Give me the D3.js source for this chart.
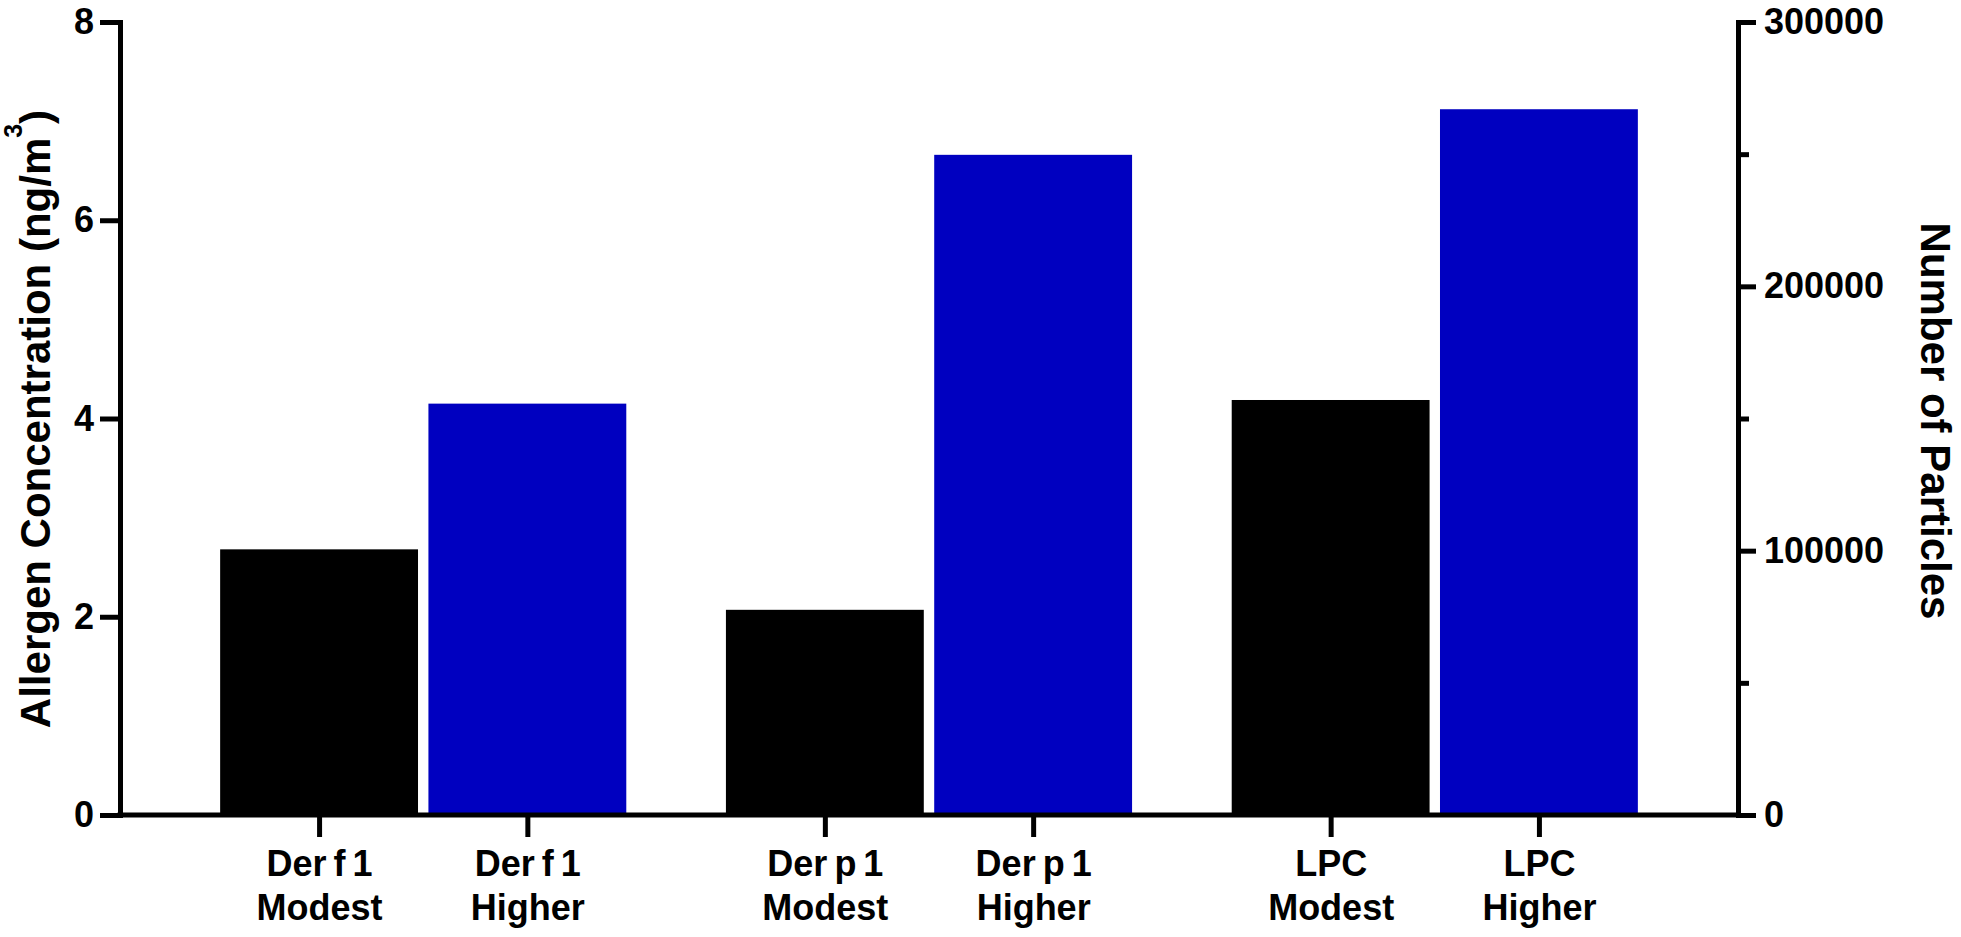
<!DOCTYPE html>
<html>
<head>
<meta charset="utf-8">
<script src="https://cdn.jsdelivr.net/npm/d3@7"></script>
<style>
  body { margin: 0; background: #fff; }
  svg text { font-family: "Liberation Sans", Arial, sans-serif; font-weight: bold; fill: #000; }
</style>
</head>
<body>
<svg id="chart" width="1961" height="937"></svg>
<script>
// groups on the x axis, two bars each
var categories = ["Der f 1", "Der p 1", "LPC"];
var levels = ["Modest", "Higher"];
// Der f 1 / Der p 1 in ng/m3 (left axis), LPC in particles (right axis)
var modestValues = [2.68, 2.07, 157000];
var higherValues = [4.15, 6.66, 267000];
var valueAxis = ["left", "left", "right"];
var leftTicks = [0, 2, 4, 6, 8];
var rightTicks = [0, 100000, 200000, 300000];
var rightMinorTicks = [50000, 150000, 250000];
var colors = { Modest: "#000000", Higher: "#0000c0" };

var svg = d3.select("#chart");

var plotLeft = 120, plotRight = 1738,
    plotTop = 22, plotBottom = 815;

var x0 = d3.scaleBand()
    .domain(categories)
    .range([plotLeft, plotRight])
    .paddingInner(0.197)
    .paddingOuter(0.198);

var x1 = d3.scaleBand()
    .domain(levels)
    .range([0, x0.bandwidth()])
    .paddingInner(0.05);

var yLeft = d3.scaleLinear().domain([0, 8]).range([plotBottom, plotTop]);
var yRight = d3.scaleLinear().domain([0, 300000]).range([plotBottom, plotTop]);

var rows = [];
categories.forEach(function (c, i) {
  rows.push({ cat: c, level: "Modest", value: modestValues[i], axis: valueAxis[i] });
  rows.push({ cat: c, level: "Higher", value: higherValues[i], axis: valueAxis[i] });
});

function yFor(d) {
  return d.axis === "right" ? yRight(d.value) : yLeft(d.value);
}

svg.append("g").selectAll("rect")
    .data(rows)
    .join("rect")
    .attr("x", function (d) { return x0(d.cat) + x1(d.level); })
    .attr("y", yFor)
    .attr("width", x1.bandwidth())
    .attr("height", function (d) { return plotBottom - yFor(d); })
    .attr("fill", function (d) { return colors[d.level]; });

function styleAxis(g) {
  g.selectAll("line, path").attr("stroke", "#000").attr("stroke-width", 5);
  g.selectAll("text").style("font-size", "36px");
}

// left axis
svg.append("g")
    .attr("transform", "translate(" + plotLeft + ",0)")
    .call(d3.axisLeft(yLeft).tickValues(leftTicks).tickSize(20).tickSizeOuter(0).tickPadding(6))
    .call(styleAxis)
    .call(function (g) { g.select(".domain").attr("stroke-linecap", "square"); });

// right axis
svg.append("g")
    .attr("transform", "translate(" + plotRight + ",0)")
    .call(d3.axisRight(yRight).tickValues(rightMinorTicks).tickSize(11).tickSizeOuter(0).tickFormat(""))
    .call(styleAxis)
    .call(function (g) { g.select(".domain").remove(); });

svg.append("g")
    .attr("transform", "translate(" + plotRight + ",0)")
    .call(d3.axisRight(yRight).tickValues(rightTicks).tickSize(18).tickSizeOuter(0).tickPadding(8).tickFormat(d3.format("d")))
    .call(styleAxis)
    .call(function (g) { g.select(".domain").attr("stroke-linecap", "square"); });

// x axis: ticks at bar centres
var keys = rows.map(function (d) { return d.cat + "|" + d.level; });
var xTick = d3.scaleOrdinal()
    .domain(keys)
    .range(rows.map(function (d) { return x0(d.cat) + x1(d.level) + x1.bandwidth() / 2; }));

var xAxis = svg.append("g")
    .attr("transform", "translate(0," + plotBottom + ")")
    .call(d3.axisBottom(xTick).tickSize(22).tickSizeOuter(0).tickFormat(""))
    .call(styleAxis);
xAxis.select(".domain").remove();

xAxis.selectAll(".tick text").remove();
xAxis.selectAll(".tick").append("text")
    .attr("text-anchor", "middle")
    .style("font-size", "36px")
    .style("word-spacing", "-3px")
    .each(function (k) {
      var parts = k.split("|");
      var t = d3.select(this);
      t.append("tspan").attr("x", 0).attr("y", 61).text(parts[0]);
      t.append("tspan").attr("x", 0).attr("y", 105).text(parts[1]);
    });

svg.append("line")
    .attr("x1", plotLeft).attr("x2", plotRight)
    .attr("y1", plotBottom).attr("y2", plotBottom)
    .attr("stroke", "#000")
    .attr("stroke-width", 5)
    .attr("stroke-linecap", "square");

// axis titles
var lt = svg.append("text")
    .attr("transform", "translate(50,419) rotate(-90)")
    .attr("text-anchor", "middle")
    .style("font-size", "42px");
lt.append("tspan").text("Allergen Concentration (ng/m");
lt.append("tspan").attr("dy", -28).style("font-size", "25px").text("3");
lt.append("tspan").attr("dy", 28).text(")");

svg.append("text")
    .attr("transform", "translate(1921,421) rotate(90)")
    .attr("text-anchor", "middle")
    .style("font-size", "42px")
    .text("Number of Particles");
</script>
</body>
</html>
